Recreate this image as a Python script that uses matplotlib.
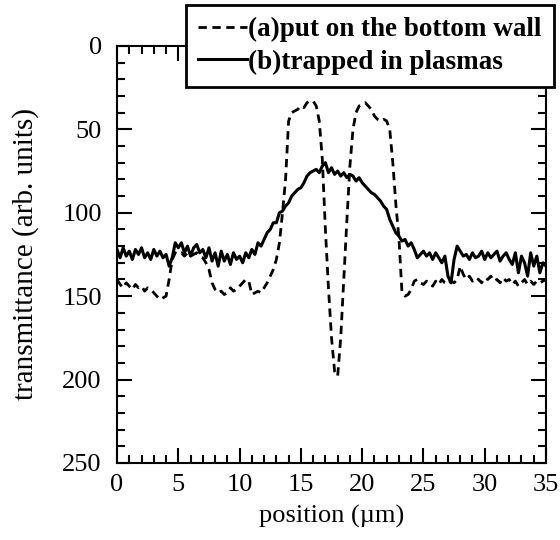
import numpy as np
import matplotlib
matplotlib.use('Agg')
import matplotlib.pyplot as plt
from matplotlib.ticker import MultipleLocator

plt.rcParams['font.family'] = ['Liberation Serif', 'DejaVu Serif']

# 位置 (um), 0.25刻み
position = np.arange(0, 35.01, 0.25)

# (a) put on the bottom wall
wall = [
    140, 143, 145, 142, 144, 146, 143, 145, 144, 147, 145, 146, 148, 150, 152, 151,
    150, 140, 128, 124, 125, 124, 126, 124, 126, 125, 124, 126, 127, 130, 134, 142,
    146, 148, 147, 149, 148, 145, 147, 146, 144, 142, 140, 141, 149, 148, 147, 148,
    145, 142, 138, 134, 128, 118, 100, 80, 45, 40, 39, 38, 36, 37, 34, 33,
    33, 36, 45, 68, 110, 145, 175, 195, 198, 175, 140, 105, 72, 50, 40, 36,
    35, 34, 36, 38, 42, 44, 45, 44, 45, 50, 70, 95, 115, 148, 150, 149,
    146, 141, 140, 142, 143, 141, 142, 144, 141, 143, 140, 142, 143, 141, 142, 140,
    132, 137, 140, 138, 141, 139, 140, 142, 139, 140, 138, 141, 140, 142, 139, 141,
    140, 143, 141, 144, 142, 140, 143, 141, 143, 141, 142, 141, 140,
]

# (b) trapped in plasmas
plasma = [
    122, 127, 121, 126, 123, 128, 122, 125, 121, 127, 124, 128, 122, 126, 123, 127,
    125, 132, 127, 118, 121, 118, 124, 120, 126, 121, 119, 124, 122, 127, 121, 129,
    124, 132, 123, 129, 125, 131, 124, 128, 126, 130, 124, 127, 122, 125, 118, 120,
    116, 112, 110, 106, 106, 100, 99, 96, 94, 90, 88, 86, 85, 82, 78, 76,
    75, 74, 76, 72, 70, 76, 73, 77, 75, 78, 76, 79, 77, 78, 81, 79,
    82, 84, 86, 88, 89, 91, 93, 96, 98, 104, 108, 112, 114, 117, 116, 120,
    118, 122, 127, 125, 123, 126, 124, 128, 124, 127, 130, 126, 138, 142, 128, 120,
    123, 126, 125, 128, 124, 127, 126, 123, 128, 124, 127, 125, 123, 129, 126, 124,
    128, 131, 124, 136, 126, 130, 138, 124, 132, 126, 136, 130, 132,
]

fig = plt.figure(figsize=(5.6, 5.4), dpi=100)
ax = fig.add_axes([0.209, 0.1426, 0.766, 0.7724])

l1, = ax.plot(position, wall, color='black', lw=2.0, linestyle=(0, (3, 2)),
              label='(a)put on the bottom wall')
l2, = ax.plot(position, plasma, color='black', lw=2.2,
              label='(b)trapped in plasmas')

ax.set_xlim(0, 35)
ax.set_ylim(250, 0)
ax.xaxis.set_major_locator(MultipleLocator(5))
ax.xaxis.set_minor_locator(MultipleLocator(1))
ax.yaxis.set_major_locator(MultipleLocator(50))
ax.yaxis.set_minor_locator(MultipleLocator(10))
ax.tick_params(which='both', direction='in', top=True, right=True, width=1.5,
               labelsize=19)
ax.tick_params(which='major', length=11)
ax.tick_params(which='minor', length=6)
ax.tick_params(axis='y', pad=11)
ax.tick_params(axis='x', pad=8)
for s in ax.spines.values():
    s.set_linewidth(1.5)

ax.set_xlabel('position (µm)', fontsize=19, labelpad=6)
ax.set_ylabel('transmittance (arb. units)', fontsize=21, labelpad=17)

leg = fig.legend(handles=[l1, l2], loc='upper left', bbox_to_anchor=(0.332, 0.991),
                 frameon=True, fancybox=False, edgecolor='black', framealpha=1,
                 prop={'weight': 'bold', 'size': 19.5}, handlelength=1.8,
                 handletextpad=0.05, borderpad=0.45, labelspacing=0.27,
                 borderaxespad=0)
leg.get_frame().set_linewidth(2.0)

fig.savefig('out.png', dpi=100)
